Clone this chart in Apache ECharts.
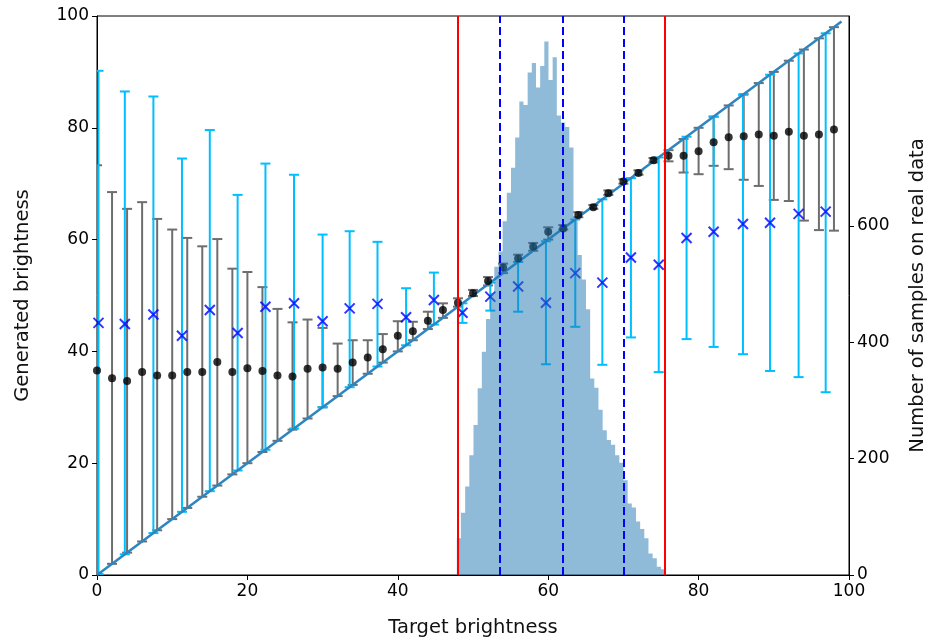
<!DOCTYPE html>
<html>
<head>
<meta charset="utf-8">
<script src="https://cdn.jsdelivr.net/npm/echarts@6/dist/echarts.min.js"></script>
<style>
  html, body { margin: 0; padding: 0; background: #fff; }
  #chart { width: 930px; height: 641px; }
</style>
</head>
<body>
<div id="chart"></div>
<script>
// black dots + grey bars
const targetsA = [0, 2, 4, 6, 8, 10, 12, 14, 16, 18, 20, 22, 24, 26, 28, 30, 32, 34, 36, 38, 40, 42, 44, 46, 48,
  50, 52, 54, 56, 58, 60, 62, 64, 66, 68, 70, 72, 74, 76, 78, 80, 82, 84, 86, 88, 90, 92, 94, 96, 98];
const meanA = [36.6, 35.2, 34.7, 36.3, 35.7, 35.7, 36.3, 36.3, 38.1, 36.3, 37.0, 36.5, 35.7, 35.5, 36.9, 37.1, 36.9,
  38.0, 38.9, 40.4, 42.8, 43.6, 45.5, 47.4, 48.7, 50.4, 52.6, 55.0, 56.6, 58.7, 61.4, 62.0, 64.4, 65.8, 68.3, 70.4,
  71.9, 74.2, 75.0, 75.0, 75.8, 77.4, 78.3, 78.5, 78.8, 78.6, 79.3, 78.6, 78.8, 79.7];
const lowA = [0, 2, 4, 6, 8, 10, 12, 14, 16, 18, 20, 22, 24, 26, 28, 30, 32, 34, 36, 38, 40, 42, 44, 46, 48,
  49.9, 51.8, 54.0, 56.0, 58.0, 60.0, 61.8, 64.0, 65.5, 68.0, 70.0, 71.6, 73.8,
  74.0, 72.0, 71.7, 73.2, 72.6, 70.7, 69.6, 67.1, 66.9, 63.4, 61.7, 61.6];
const highA = [73.3, 68.5, 65.5, 66.7, 63.7, 61.8, 60.3, 58.8, 60.1, 54.8, 54.2, 51.5, 47.6, 45.2, 45.7, 44.2, 41.4,
  42.0, 42.0, 43.1, 45.4, 45.3, 47.1, 48.6, 49.5,
  51.0, 53.3, 55.7, 57.3, 59.4, 62.2, 62.6, 64.9, 66.2, 68.8, 70.8, 72.4, 74.6,
  76, 78, 80, 82, 84, 86, 88, 90, 92, 94, 96, 98];

// blue crosses + cyan bars
const targetsB = [0.2, 3.7, 7.5, 11.3, 15.0, 18.7, 22.4, 26.2, 30.0, 33.6, 37.3, 41.1, 44.8, 48.6, 52.3, 56.0, 59.7,
  63.6, 67.2, 71.0, 74.7, 78.4, 82.0, 85.9, 89.5, 93.3, 96.9];
const meanB = [45.1, 44.9, 46.6, 42.8, 47.4, 43.3, 48.0, 48.6, 45.4, 47.7, 48.5, 46.1, 49.2, 46.9, 49.8, 51.6, 48.7,
  54.0, 52.3, 56.8, 55.5, 60.3, 61.4, 62.8, 63.0, 64.6, 65.0];
const lowB = [0.2, 3.7, 7.5, 11.3, 15.0, 18.7, 22.4, 26.2, 30.0, 33.6, 37.3, 41.1, 44.8, 45.1, 47.3, 47.1, 37.7,
  44.4, 37.6, 42.5, 36.3, 42.2, 40.8, 39.5, 36.5, 35.4, 32.7];
const highB = [90.2, 86.5, 85.6, 74.5, 79.6, 68.0, 73.6, 71.6, 60.9, 61.5, 59.6, 51.3, 54.1, 48.6, 52.3, 56.0, 59.7,
  63.6, 67.2, 71.0, 74.7, 78.4, 82.0, 85.9, 89.5, 93.3, 96.9];

// histogram of real data (right axis)
const histStart = 47.85;
const histBinWidth = 0.554;
const histCounts = [63, 107, 152, 206, 258, 321, 384, 440, 485, 530, 556, 608, 657, 700, 752, 814, 808, 864, 880, 838,
  875, 917, 851, 890, 790, 778, 770, 735, 610, 550, 508, 457, 338, 322, 284, 249, 232, 224, 206, 193,
  163, 123, 116, 92, 79, 63, 37, 29, 14, 10];

const redLines = [48.0, 75.5];
const blueLines = [53.5, 61.9, 70.0];
const diagonal = [[0, 0], [99, 99]];

const xTicks = [0, 20, 40, 60, 80, 100];
const leftTicks = [0, 20, 40, 60, 80, 100];
const rightTicks = [0, 200, 400, 600, 800];

const font = 'DejaVu Sans';

function errorBars(color) {
  return function (params, api) {
    const x = api.value(0);
    const lo = api.coord([x, api.value(1)]);
    const hi = api.coord([x, api.value(2)]);
    const style = { stroke: color, lineWidth: 2 };
    const cap = 5;
    return {
      type: 'group',
      children: [
        { type: 'line', shape: { x1: lo[0], y1: lo[1], x2: hi[0], y2: hi[1] }, style: style },
        { type: 'line', shape: { x1: lo[0] - cap, y1: lo[1], x2: lo[0] + cap, y2: lo[1] }, style: style },
        { type: 'line', shape: { x1: hi[0] - cap, y1: hi[1], x2: hi[0] + cap, y2: hi[1] }, style: style }
      ]
    };
  };
}

// step outline of the histogram: each bin's left edge, then the closing right edge
const histData = histCounts.map((c, i) => [histStart + i * histBinWidth, c]);
histData.push([histStart + histCounts.length * histBinWidth, histCounts[histCounts.length - 1]]);

const axisCommon = {
  axisLine: { show: true, lineStyle: { color: '#000', width: 1 } },
  axisTick: { show: true, length: 5, lineStyle: { color: '#000' } },
  axisLabel: { color: '#000', fontSize: 17, fontFamily: font, margin: 8 },
  splitLine: { show: false },
  nameLocation: 'middle',
  nameTextStyle: { color: '#111', fontSize: 19.5, fontFamily: font }
};

const myChart = echarts.init(document.getElementById('chart'));

const option = {
  animation: false,
  backgroundColor: '#fff',
  grid: {
    left: 97, right: 81, top: 16, bottom: 66, outerBoundsMode: 'none',
    show: true, borderColor: '#000', borderWidth: 1
  },
  xAxis: Object.assign({}, axisCommon, {
    type: 'value', min: 0, max: 100, interval: 20,
    name: 'Target brightness', nameGap: 43,
    axisTick: Object.assign({}, axisCommon.axisTick, { customValues: xTicks }),
    axisLabel: Object.assign({}, axisCommon.axisLabel, { customValues: xTicks })
  }),
  yAxis: [
    Object.assign({}, axisCommon, {
      type: 'value', min: 0, max: 100, interval: 20, position: 'left',
      name: 'Generated brightness', nameGap: 64,
      axisTick: Object.assign({}, axisCommon.axisTick, { customValues: leftTicks }),
      axisLabel: Object.assign({}, axisCommon.axisLabel, { customValues: leftTicks })
    }),
    Object.assign({}, axisCommon, {
      type: 'value', min: 0, max: 961, interval: 200, position: 'right',
      name: 'Number of samples on real data', nameGap: 59,
      axisTick: Object.assign({}, axisCommon.axisTick, { customValues: rightTicks }),
      axisLabel: Object.assign({}, axisCommon.axisLabel, { customValues: rightTicks, showMaxLabel: false })
    })
  ],
  series: [
    {
      type: 'custom', name: 'grey bars', z: 2, clip: true,
      renderItem: errorBars('#6e6e6e'),
      encode: { x: 0, y: [1, 2] },
      data: targetsA.map((x, i) => [x, lowA[i], highA[i]])
    },
    {
      type: 'custom', name: 'cyan bars', z: 2, clip: true,
      renderItem: errorBars('#00bfff'),
      encode: { x: 0, y: [1, 2] },
      data: targetsB.map((x, i) => [x, lowB[i], highB[i]])
    },
    {
      type: 'line', name: 'diagonal', z: 3, showSymbol: false, silent: true,
      lineStyle: { color: '#2e86c1', width: 2.5 },
      data: diagonal
    },
    {
      type: 'scatter', name: 'model A', z: 4, symbol: 'circle', symbolSize: 8,
      itemStyle: { color: '#000' },
      data: targetsA.map((x, i) => [x, meanA[i]])
    },
    {
      type: 'scatter', name: 'model B', z: 4, clip: true,
      symbol: 'path://M0 0L10 10M10 0L0 10', symbolSize: 10,
      itemStyle: { color: 'rgba(0,0,0,0)', borderColor: '#0000ff', borderWidth: 2 },
      data: targetsB.map((x, i) => [x, meanB[i]])
    },
    {
      type: 'line', name: 'real data', yAxisIndex: 1, z: 5, step: 'end',
      showSymbol: false, silent: true,
      lineStyle: { width: 0 },
      areaStyle: { color: 'rgba(31,119,180,0.5)', opacity: 1 },
      data: histData,
      markLine: {
        z: 6, silent: true, symbol: 'none', animation: false,
        label: { show: false },
        data: redLines.map(v => ({ xAxis: v, lineStyle: { color: '#ff0000', width: 2, type: 'solid' } }))
          .concat(blueLines.map(v => ({ xAxis: v, lineStyle: { color: '#0000ff', width: 2, type: [8, 4] } })))
      }
    }
  ]
};

myChart.setOption(option);
</script>
</body>
</html>
